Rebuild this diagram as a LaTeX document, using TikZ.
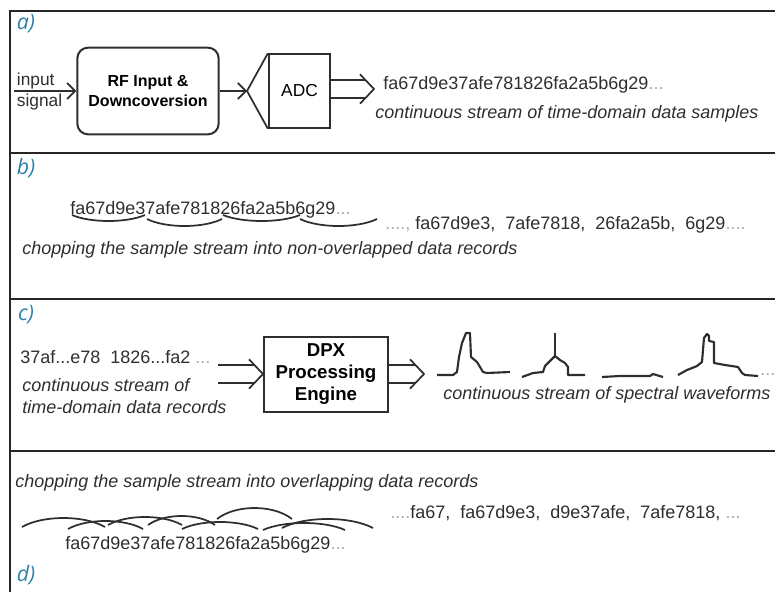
\documentclass[tikz,border=0pt]{standalone}
\usepackage{fontspec}
\setmainfont{Liberation Sans}
\newfontfamily\tagfont{Open Sans}
\usepackage{tikz}
\usetikzlibrary{arrows.meta, positioning}

\definecolor{ink}{HTML}{2E2E2E}
\definecolor{tagblue}{HTML}{2B7FAA}
\definecolor{faint}{HTML}{A8A8A8}

% hollow double arrow: shaft from #1 to the tip #2
\newcommand{\dblarrow}[2]{%
  \draw[dblshaft] (#1) -- ([xshift=-6.4pt]#2);
  \draw[chevron] ([xshift=-10.5pt, yshift=11pt]#2) -- (#2) -- ([xshift=-10.5pt, yshift=-11pt]#2);}

\begin{document}
\begin{tikzpicture}[
  x=0.75pt, y=-0.75pt,
  tag/.style      = {font=\tagfont\itshape\fontsize{16}{18}\selectfont, text=tagblue, inner sep=0pt},
  plain/.style    = {font=\fontsize{13}{15}\selectfont, text=ink, inner sep=0pt},
  hex/.style      = {font=\fontsize{13.5}{16}\selectfont, text=ink, anchor=west, inner sep=0pt},
  note/.style     = {font=\itshape\fontsize{13.5}{16.5}\selectfont, text=ink, anchor=west, inner sep=0pt, align=left},
  block/.style    = {draw=ink, line width=1.5pt, align=center, text=black, font=\bfseries\fontsize{12}{15}\selectfont},
  arr/.style      = {draw=ink, line width=1.3pt, -{Straight Barb[length=6pt, width=12pt]}},
  dblshaft/.style = {draw=ink, line width=1.2pt, double=white, double distance=12.3pt},
  chevron/.style  = {draw=ink, line width=1.3pt, line join=miter},
  frameline/.style = {draw=black!85, line width=2.2pt},
  brace/.style    = {draw=ink, line width=1.3pt},
  wave/.style     = {draw=ink, line width=1.6pt, line join=round}
]
\useasboundingbox (0,0) rectangle (775,592);

% frame
\draw[frameline] (10,592) -- (10,11) -- (777,11);
\foreach \yy in {153,299,451}
  \draw[frameline] (10,\yy) -- (777,\yy);

% a) front end
\node[tag] (lbla) at (26,24) {a)};
\coordinate (insrc) at (14,91);
\node[block, rounded corners=8pt, minimum width=106pt, minimum height=65pt] (rf) at (148,91) {RF Input \&\\Downcoversion};
\node[block, font=\fontsize{13}{15}\selectfont, minimum width=46pt, minimum height=55pt] (adc) at (299.5,91) {ADC};
\coordinate (apex) at (247,91);
\coordinate (atip) at (374,89);
\coordinate (aout) at (adc.east |- atip);
\node[plain, above right=1pt and 2pt of insrc] (inlbl) {input};
\node[plain, below right=2pt and 2pt of insrc] (siglbl) {signal};
\draw[arr] (insrc) -- (rf.west);
\draw[arr] (rf.east) -- (apex);
\draw[draw=ink, line width=1.3pt] (adc.north west) -- (apex) -- (adc.south west);
\dblarrow{aout}{atip}
\node[hex] (streama) at (383,85) {fa67d9e37afe781826fa2a5b6g29{\color{faint}...}};
\node[note] (capa) at (375,114) {continuous stream of time-domain data samples};

% b) non-overlapped records
\node[tag] (lblb) at (26,168) {b)};
\node[hex] (hexb) at (70,210) {fa67d9e37afe781826fa2a5b6g29{\color{faint}...}};
\foreach \xa/\xb/\yy/\dd in {72/145/215/6, 147/222/219/7, 223/300/215/6, 300/377/219/7}
  \draw[brace] (\xa,\yy) .. controls ({\xa+(\xb-\xa)/4},{\yy+\dd*4/3}) and ({\xb-(\xb-\xa)/4},{\yy+\dd*4/3}) .. (\xb,\yy);
\node[hex] (recb) at (385,225) {{\color{faint}....,} fa67d9e3,\ \ 7afe7818,\ \ 26fa2a5b,\ \ 6g29{\color{faint}....}};
\node[note] (capb) at (22,250) {chopping the sample stream into non-overlapped data records};

% c) DPX engine
\node[tag] (lblc) at (26,315) {c)};
\node[hex] (recc) at (20,357) {37af...e78\ \ 1826...fa2 {\color{faint}...}};
\node[note] (capc) at (22,396) {continuous stream of\\time-domain data records};
\node[block, font=\bfseries\fontsize{14}{16.5}\selectfont, minimum width=93pt, minimum height=56pt] (dpx) at (326,374.5) {DPX\\Processing\\Engine};
\coordinate (cin) at (218,374);
\coordinate (dpxin) at (dpx.west |- cin);
\coordinate (ctip) at (424,374);
\coordinate (dpxout) at (dpx.east |- ctip);
\dblarrow{cin}{dpxin}
\dblarrow{dpxout}{ctip}
% spectral waveforms
\draw[wave] (437,375) -- (453,375) -- (457,372) -- (459,357) -- (462,343) -- (466,333) -- (470,333) -- (471,357) -- (477,362) -- (483,372) -- (487,373) -- (510,372);
\draw[wave] (522,377) -- (533,373) -- (543,372) -- (545,366) -- (548,363) -- (555,356) -- (560,360) -- (565,363) -- (568,367) -- (568,375) -- (585,375);
\draw[wave] (555,333) -- (555,356);
\draw[wave] (602,377) -- (620,376) -- (650,376) -- (653,374) -- (663,377);
\draw[wave] (678,375) -- (687,370) -- (697,366) -- (702,362) -- (703,350) -- (704,338) -- (707,334) -- (709,336) -- (709,341) -- (714,342) -- (714,363) -- (725,365) -- (738,367) -- (742,373) -- (745,375) -- (758,376);
\node[hex, text=faint] (wdots) at (760,375) {...};
\node[note] (capw) at (443,395) {continuous stream of spectral waveforms};

% d) overlapping records
\node[note] (capd) at (15,483) {chopping the sample stream into overlapping data records};
\foreach \xa/\xb/\ye/\yt in {22/105/527/518, 68/143/529/521, 108/182/525/517, 148/215/525/516, 182/258/529/522, 217/292/519/508, 263/345/530/523, 282/373/528/519}
  \draw[brace] (\xa,\ye) .. controls ({\xa+(\xb-\xa)/4},{\ye+(\yt-\ye)*4/3}) and ({\xb-(\xb-\xa)/4},{\ye+(\yt-\ye)*4/3}) .. (\xb,\ye);
\node[hex] (hexd) at (65,545) {fa67d9e37afe781826fa2a5b6g29{\color{faint}...}};
\node[hex] (recd) at (390,513) {{\color{faint}....}fa67,\ \ fa67d9e3,\ \ d9e37afe,\ \ 7afe7818, {\color{faint}...}};
\node[tag] (lbld) at (26,575) {d)};

\end{tikzpicture}
\end{document}
